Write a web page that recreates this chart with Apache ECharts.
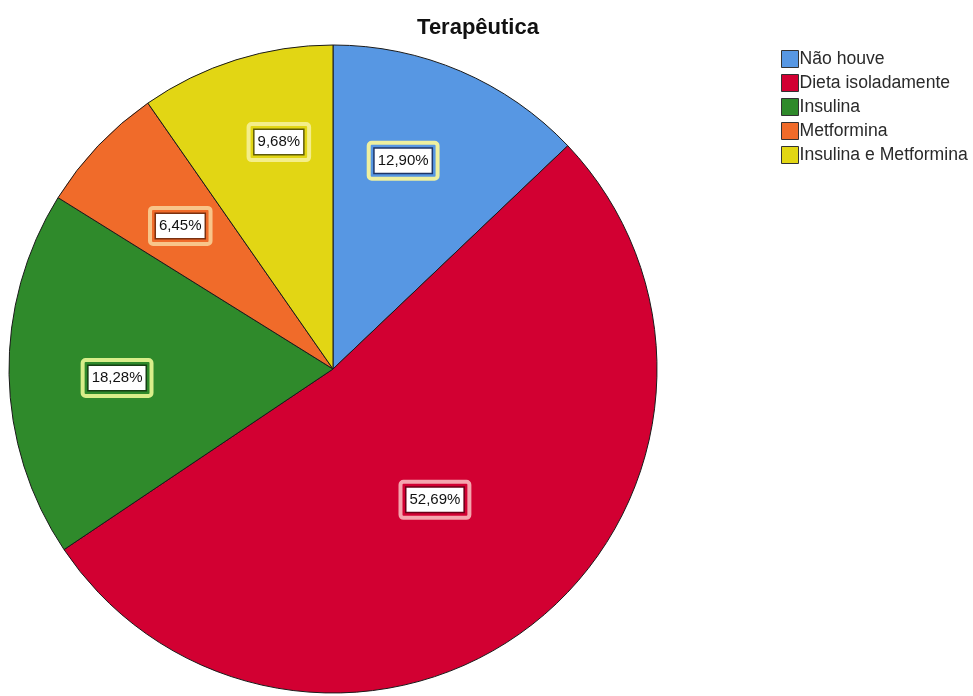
<!DOCTYPE html>
<html>
<head>
<meta charset="utf-8">
<script src="https://cdn.jsdelivr.net/npm/echarts@6/dist/echarts.min.js"></script>
<style>html,body{margin:0;padding:0;background:#fff}#c{width:973px;height:696px}</style>
</head>
<body>
<div id="c"></div>
<script>
const categories = ['Não houve', 'Dieta isoladamente', 'Insulina', 'Metformina', 'Insulina e Metformina'];
const percents = [12.90, 52.69, 18.28, 6.45, 9.68];
const labelTexts = ['12,90%', '52,69%', '18,28%', '6,45%', '9,68%'];

const colors = ['#5797E3', '#D20032', '#2F8A2B', '#F06B2A', '#E2D614'];
const labelInner = ['#1E3566', '#6A0018', '#163F14', '#7A3110', '#5F5A08'];
const labelOuter = ['#EEF0A0', '#F5A5AE', '#D9EE8A', '#F8C58A', '#F4EE8A'];
const labelRadial = [0.678, 0.512, 0.667, 0.646, 0.72];
const labelAngleShift = [-4.6, 0.8, -1.4, -0.4, 4.0];

const CX = 333, CY = 369, R = 324;

const total = percents.reduce((a, b) => a + b, 0);
const midAngles = [];
let acc = 0;
for (const p of percents) { midAngles.push((acc + p / 2) / total * 2 * Math.PI); acc += p; }

function layoutFn(params) {
  const i = params.dataIndex;
  const a = midAngles[i] + labelAngleShift[i] * Math.PI / 180;
  const rr = R * labelRadial[i];
  return { x: CX + rr * Math.sin(a), y: CY - rr * Math.cos(a), align: 'center', verticalAlign: 'middle' };
}

const dataInner = categories.map((n, i) => ({
  name: n, value: percents[i],
  itemStyle: { color: colors[i] },
  label: { borderColor: labelInner[i] }
}));
const dataOuter = categories.map((n, i) => ({
  name: n, value: percents[i],
  itemStyle: { color: 'rgba(0,0,0,0)' },
  label: { borderColor: labelOuter[i] }
}));

const FONT = 'Liberation Sans, Arial, sans-serif';
const chart = echarts.init(document.getElementById('c'), null, { renderer: 'canvas' });
chart.setOption({
  animation: false,
  title: {
    text: 'Terapêutica', left: 473, top: 12, textAlign: 'center',
    textStyle: { fontFamily: FONT, fontSize: 22, fontWeight: 'bold', color: '#111' }
  },
  legend: {
    orient: 'vertical', left: 776, top: 45,
    itemWidth: 17, itemHeight: 17, itemGap: 6,
    icon: 'rect',
    data: categories.map((n, i) => ({ name: n, itemStyle: { color: colors[i], borderColor: '#333', borderWidth: 1 } })),
    textStyle: { fontFamily: FONT, fontSize: 17.6, color: '#2a2a2a', padding: [0, 0, 0, -4] }
  },
  series: [
    {
      type: 'pie', center: [CX, CY], radius: R, startAngle: 90, clockwise: true,
      silent: true, legendHoverLink: false,
      data: dataInner,
      itemStyle: { borderColor: '#1a1a1a', borderWidth: 1 },
      label: {
        show: true, position: 'inside',
        formatter: p => labelTexts[p.dataIndex],
        fontFamily: FONT, fontSize: 15, color: '#111',
        backgroundColor: '#fff', borderWidth: 1.5, padding: [5, 3, 4, 3]
      },
      labelLine: { show: false },
      labelLayout: layoutFn,
      z: 2
    },
    {
      type: 'pie', center: [CX, CY], radius: R, startAngle: 90, clockwise: true,
      silent: true, legendHoverLink: false,
      data: dataOuter,
      itemStyle: { borderWidth: 0 },
      label: {
        show: true, position: 'inside',
        formatter: p => labelTexts[p.dataIndex],
        fontFamily: FONT, fontSize: 15, color: 'rgba(0,0,0,0)',
        backgroundColor: 'rgba(0,0,0,0)', borderWidth: 2, borderRadius: 3, padding: [11, 9, 10, 9]
      },
      labelLine: { show: false },
      labelLayout: layoutFn,
      z: 3
    }
  ]
});
</script>
</body>
</html>
